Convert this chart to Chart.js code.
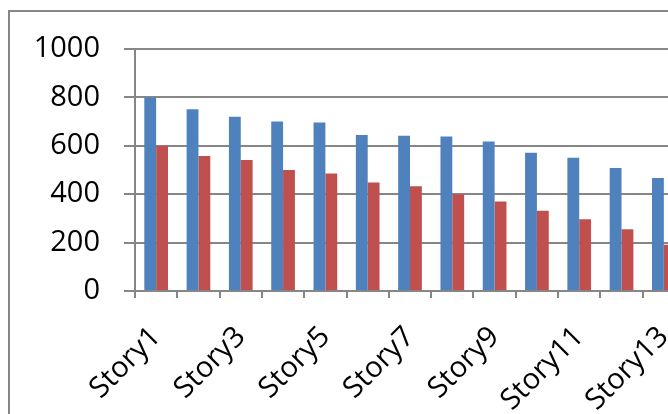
<!DOCTYPE html>
<html>
<head>
<meta charset="utf-8">
<script src="https://cdn.jsdelivr.net/npm/chart.js@4/dist/chart.umd.min.js"></script>
<style>
  html, body { margin: 0; padding: 0; background: #ffffff; overflow: hidden; width: 668px; height: 414px; }
  #wrap { position: absolute; left: 0; top: 0; width: 720px; height: 440px; }
</style>
</head>
<body>
<div id="wrap"><canvas id="chart" width="720" height="440"></canvas></div>
<script>
// Story names along the category axis
const categories = ['Story1', 'Story2', 'Story3', 'Story4', 'Story5', 'Story6', 'Story7',
                    'Story8', 'Story9', 'Story10', 'Story11', 'Story12', 'Story13'];
// First series (blue)
const seriesA = [800, 751, 720, 700, 696, 645, 642, 638, 618, 571, 551, 508, 467];
// Second series (red)
const seriesB = [600, 558, 541, 500, 486, 448, 433, 400, 370, 332, 297, 255, 191];
// Value axis ticks
const yTicks = [0, 200, 400, 600, 800, 1000];

const GRID = '#868686';
const FONT = { family: '"Open Sans", "Noto Sans", sans-serif', size: 29 };

// Outer frame of the chart, drawn behind everything
const framePlugin = {
  id: 'frame',
  beforeDraw(chart) {
    const ctx = chart.ctx;
    ctx.save();
    ctx.fillStyle = '#ffffff';
    ctx.fillRect(0, 0, chart.width, chart.height);
    ctx.strokeStyle = GRID;
    ctx.lineWidth = 2;
    ctx.strokeRect(9, 11, chart.width + 100, chart.height + 100);
    ctx.restore();
  }
};

new Chart(document.getElementById('chart'), {
  type: 'bar',
  data: {
    labels: categories,
    datasets: [
      { data: seriesA, backgroundColor: '#4F81BD', borderWidth: 0 },
      { data: seriesB, backgroundColor: '#C0504D', borderWidth: 0 }
    ]
  },
  options: {
    responsive: false,
    animation: false,
    devicePixelRatio: 1,
    categoryPercentage: 0.56,
    barPercentage: 1,
    layout: { padding: { left: 0, top: 49, right: 35, bottom: 0 } },
    plugins: { legend: { display: false }, tooltip: { enabled: false } },
    scales: {
      y: {
        min: yTicks[0],
        max: yTicks[yTicks.length - 1],
        afterBuildTicks(scale) { scale.ticks = yTicks.map(v => ({ value: v })); },
        afterFit(scale) { scale.width = 135; },
        ticks: { color: '#000000', font: FONT, padding: 24, callback: v => String(v) },
        grid: { color: GRID, lineWidth: 2, tickLength: 11 },
        border: { color: GRID, width: 2 }
      },
      x: {
        afterFit(scale) { scale.height = 440 - 291; },
        ticks: {
          color: '#000000',
          font: FONT,
          autoSkip: false,
          minRotation: 45,
          maxRotation: 45,
          padding: 22,
          callback(value, index) { return index % 2 === 0 ? categories[index] : ''; }
        },
        grid: { color: GRID, lineWidth: 2, tickLength: 7, drawOnChartArea: false, offset: true },
        border: { color: GRID, width: 2 }
      }
    }
  },
  plugins: [framePlugin]
});
</script>
</body>
</html>
